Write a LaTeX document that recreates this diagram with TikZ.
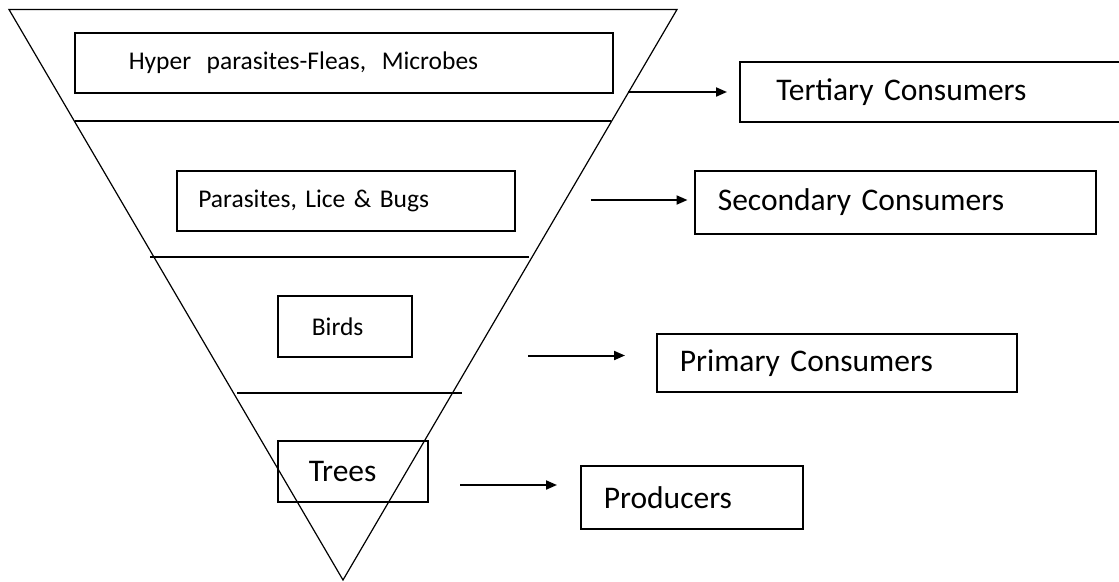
\documentclass[tikz,border=0pt]{standalone}
\usepackage{fontspec}
\setmainfont{Carlito}
\usetikzlibrary{arrows.meta}
\usetikzlibrary{calc}

\begin{document}
\begin{tikzpicture}[x=1pt, y=-1pt,
    box/.style={draw, line width=1.6pt, rectangle, anchor=north west,
      align=left, inner ysep=0pt},
    small/.style={font=\fontsize{25.5}{30}\selectfont},
    large/.style={font=\fontsize{31.5}{38}\selectfont},
    arr/.style={-{Triangle[length=11pt, width=9pt]}, line width=2pt}]
  \useasboundingbox (0,0) rectangle (1119,581);

  % the pyramid
  \coordinate (tl) at (9,9.5);
  \coordinate (tr) at (677,9.5);
  \coordinate (apex) at (343,580);
  \draw[line width=1.2pt] (tl) -- (tr) -- (apex) -- cycle;
  \draw[line width=1.3pt] (75,121) -- (611,121);
  \draw[line width=1.3pt] (150,257) -- (529,257);
  \draw[line width=1.3pt] (237,393) -- (462,393);

  % levels
  \node[box, small, inner xsep=54pt, text width=430pt, minimum height=60pt] (hyper) at (74,32) {Hyper\hspace{7pt} parasites-Fleas,\hspace{7pt} Microbes};
  \node[box, small, inner xsep=21.5pt, text width=295pt, minimum height=60pt] (para) at (176,170) {Parasites, Lice \& Bugs};
  \node[box, small, inner xsep=34pt, text width=66pt, minimum height=61pt] (birds) at (277,295) {Birds};
  \node[box, large, inner xsep=31pt, text width=88pt, minimum height=61pt] (trees) at (277,440) {Trees};

  % names of the levels
  \node[box, large, inner xsep=36.5pt, text width=320pt, minimum height=60pt] (tert) at (739,61) {Tertiary Consumers};
  \node[box, large, inner xsep=23pt, text width=355pt, minimum height=63pt] (sec) at (694,170) {Secondary Consumers};
  \node[box, large, inner xsep=23pt, text width=314pt, minimum height=58pt] (prim) at (656,333) {Primary Consumers};
  \node[box, large, inner xsep=23pt, text width=176pt, minimum height=63pt] (prod) at (580,465) {Producers};

  \coordinate (a1) at (628,92);
  \coordinate (a2) at (591,200);
  \coordinate (a3) at (528,355.5);
  \coordinate (a4) at (460,485);

  \draw[arr, shorten >=12pt] (a1) -- (a1 -| tert.west);
  \draw[arr, shorten >=6.5pt] (a2) -- (a2 -| sec.west);
  \draw[arr, shorten >=31pt] (a3) -- (a3 -| prim.west);
  \draw[arr, shorten >=23pt] (a4) -- (a4 -| prod.west);
\end{tikzpicture}
\end{document}
